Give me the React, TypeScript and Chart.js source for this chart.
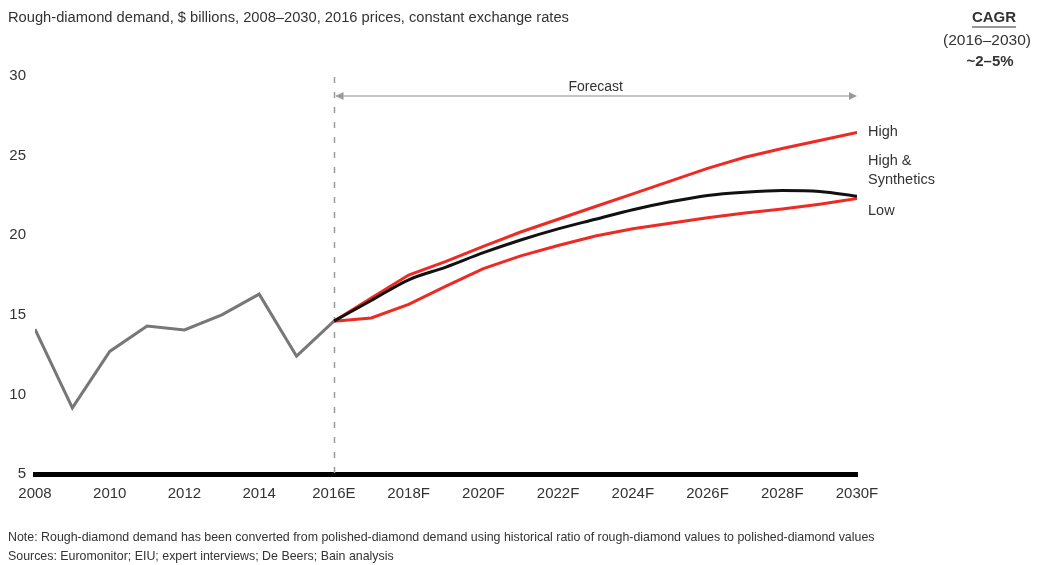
import React, { useEffect, useRef } from "react";
import { Chart, registerables } from "chart.js";

Chart.register(...registerables);

// ---- Data ----
const histYears = [2008, 2009, 2010, 2011, 2012, 2013, 2014, 2015, 2016];
const histValues = [14.1, 9.15, 12.7, 14.3, 14.05, 15.0, 16.3, 12.4, 14.6];

const forecastYears = [2016, 2017, 2018, 2019, 2020, 2021, 2022, 2023, 2024, 2025, 2026, 2027, 2028, 2029, 2030];
const highValues = [14.6, 16.05, 17.5, 18.35, 19.3, 20.2, 21.0, 21.8, 22.6, 23.4, 24.2, 24.9, 25.45, 25.95, 26.45];
const synthValues = [14.6, 15.9, 17.2, 18.0, 18.9, 19.7, 20.4, 21.0, 21.6, 22.1, 22.5, 22.7, 22.8, 22.75, 22.45];
const lowValues = [14.6, 14.8, 15.65, 16.8, 17.9, 18.7, 19.35, 19.95, 20.4, 20.75, 21.1, 21.4, 21.65, 21.95, 22.3];

const yTicks = [5, 10, 15, 20, 25, 30];

const titleText = "Rough-diamond demand, $ billions, 2008\u20132030, 2016 prices, constant exchange rates";
const noteText = "Note: Rough-diamond demand has been converted from polished-diamond demand using historical ratio of rough-diamond values to polished-diamond values";
const sourceText = "Sources: Euromonitor; EIU; expert interviews; De Beers; Bain analysis";
const cagrLines = ["CAGR", "(2016\u20132030)", "~2\u20135%"];
const seriesLabels = { high: "High", synth: ["High &", "Synthetics"], low: "Low" };
const forecastLabel = "Forecast";

const FONT = "'Liberation Sans', Arial, sans-serif";
const TEXT = "#333333";

const toXY = (xs: number[], ys: number[]) => xs.map((x, i) => ({ x, y: ys[i] }));

const annotations = {
  id: "annotations",
  beforeDatasetsDraw(chart: any) {
    const { ctx, scales } = chart;
    const xs = scales.x;
    const ys = scales.y;
    const x16 = Math.round(xs.getPixelForValue(2016)) + 0.5;
    const x30 = xs.getPixelForValue(2030);
    ctx.save();
    // dashed divider
    ctx.strokeStyle = "#9a9a9a";
    ctx.lineWidth = 1.5;
    ctx.setLineDash([6, 9]);
    ctx.beginPath();
    ctx.moveTo(x16, 77);
    ctx.lineTo(x16, ys.getPixelForValue(5));
    ctx.stroke();
    ctx.setLineDash([]);
    // forecast arrow
    const ay = 96;
    ctx.strokeStyle = "#b0b0b0";
    ctx.lineWidth = 1.5;
    ctx.beginPath();
    ctx.moveTo(x16 + 2, ay);
    ctx.lineTo(x30 - 4, ay);
    ctx.stroke();
    ctx.fillStyle = "#9a9a9a";
    ctx.beginPath();
    ctx.moveTo(x16 + 1, ay);
    ctx.lineTo(x16 + 9, ay - 4);
    ctx.lineTo(x16 + 9, ay + 4);
    ctx.closePath();
    ctx.fill();
    ctx.beginPath();
    ctx.moveTo(x30, ay);
    ctx.lineTo(x30 - 8, ay - 4);
    ctx.lineTo(x30 - 8, ay + 4);
    ctx.closePath();
    ctx.fill();
    ctx.fillStyle = TEXT;
    ctx.font = `14px ${FONT}`;
    ctx.textAlign = "center";
    ctx.textBaseline = "middle";
    ctx.fillText(forecastLabel, (x16 + x30) / 2, 87);
    ctx.restore();
  },
  afterDraw(chart: any) {
    const { ctx, scales } = chart;
    const xs = scales.x;
    const ys = scales.y;
    ctx.save();
    ctx.fillStyle = TEXT;
    ctx.textBaseline = "middle";
    // title
    ctx.font = `14.7px ${FONT}`;
    ctx.textAlign = "left";
    ctx.fillText(titleText, 8, 18);
    // CAGR block
    ctx.textAlign = "center";
    const cx = 990;
    ctx.font = `bold 15px ${FONT}`;
    ctx.fillText(cagrLines[0], cx + 4, 18);
    const w = ctx.measureText(cagrLines[0]).width;
    ctx.strokeStyle = TEXT;
    ctx.lineWidth = 1.2;
    ctx.beginPath();
    ctx.moveTo(cx + 4 - w / 2, 27);
    ctx.lineTo(cx + 4 + w / 2, 27);
    ctx.stroke();
    ctx.font = `15.5px ${FONT}`;
    ctx.fillText(cagrLines[1], cx - 3, 41);
    ctx.font = `bold 15px ${FONT}`;
    ctx.fillText(cagrLines[2], cx, 62);
    // series labels
    ctx.font = `14.5px ${FONT}`;
    ctx.textAlign = "left";
    const lx = xs.getPixelForValue(2030) + 11;
    ctx.fillText(seriesLabels.high, lx, ys.getPixelForValue(highValues[highValues.length - 1]) - 1);
    const sy = ys.getPixelForValue(synthValues[synthValues.length - 1]);
    ctx.fillText(seriesLabels.synth[0], lx, sy - 35);
    ctx.fillText(seriesLabels.synth[1], lx, sy - 16);
    ctx.fillText(seriesLabels.low, lx, ys.getPixelForValue(lowValues[lowValues.length - 1]) + 12);
    // notes
    ctx.font = `12.4px ${FONT}`;
    ctx.fillText(noteText, 8, 538);
    ctx.fillText(sourceText, 8, 557);
    ctx.restore();
  },
};

export default function App() {
  const canvasRef = useRef<HTMLCanvasElement | null>(null);

  useEffect(() => {
    if (!canvasRef.current) return;
    const chart = new Chart(canvasRef.current, {
      type: "line",
      data: {
        datasets: [
          {
            label: "Historical",
            data: toXY(histYears, histValues),
            borderColor: "#777777",
            borderWidth: 3,
            pointRadius: 0,
            tension: 0,
          },
          {
            label: "High & Synthetics",
            data: toXY(forecastYears, synthValues),
            borderColor: "#111111",
            borderWidth: 3,
            pointRadius: 0,
            cubicInterpolationMode: "monotone",
          },
          {
            label: "Low",
            data: toXY(forecastYears, lowValues),
            borderColor: "#ee2a24",
            borderWidth: 3,
            pointRadius: 0,
            tension: 0,
          },
          {
            label: "High",
            data: toXY(forecastYears, highValues),
            borderColor: "#ee2a24",
            borderWidth: 3,
            pointRadius: 0,
            tension: 0,
          },
        ],
      },
      options: {
        responsive: false,
        animation: false,
        devicePixelRatio: 1,
        layout: { padding: { left: 0, right: 180, top: 76, bottom: 0 } },
        plugins: {
          legend: { display: false },
          tooltip: { enabled: false },
          title: { display: false },
        },
        scales: {
          x: {
            type: "linear",
            min: 2008,
            max: 2030,
            grid: { display: false, drawTicks: false },
            border: { display: true, color: "#000000", width: 5 },
            afterFit: (scale: any) => {
              scale.height = 91;
            },
            afterBuildTicks: (scale: any) => {
              const t: any[] = [];
              for (let v = 2008; v <= 2030; v += 2) t.push({ value: v });
              scale.ticks = t;
            },
            ticks: {
              autoSkip: false,
              maxRotation: 0,
              padding: 11,
              color: TEXT,
              font: { family: FONT, size: 15 },
              callback: (v: any) => {
                const n = Number(v);
                if (n === 2016) return "2016E";
                if (n > 2016) return `${n}F`;
                return String(n);
              },
            },
          },
          y: {
            type: "linear",
            min: 5,
            max: 30,
            grid: { display: false, drawTicks: false },
            border: { display: false },
            afterFit: (scale: any) => {
              scale.width = 35;
            },
            afterBuildTicks: (scale: any) => {
              scale.ticks = yTicks.map((v) => ({ value: v }));
            },
            ticks: {
              padding: 9,
              color: TEXT,
              font: { family: FONT, size: 15 },
            },
          },
        },
      },
      plugins: [annotations],
    });
    return () => chart.destroy();
  }, []);

  return (
    <div style={{ position: "absolute", left: 0, top: 0, width: 1037, height: 565, background: "#ffffff" }}>
      <canvas ref={canvasRef} width={1037} height={565} />
    </div>
  );
}
